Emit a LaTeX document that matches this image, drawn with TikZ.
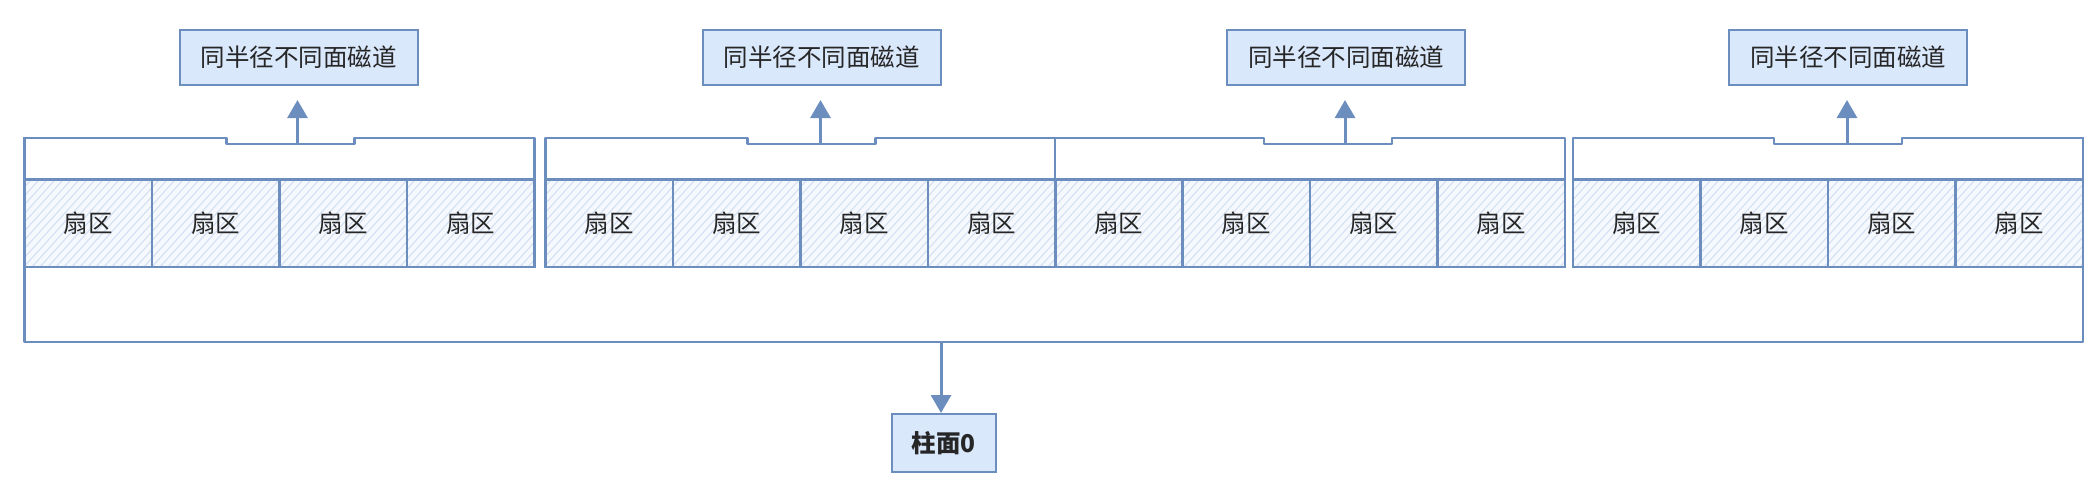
\documentclass[tikz,border=0pt]{standalone}
\usepackage{fontspec}
\setmainfont{Noto Sans CJK SC}
\usetikzlibrary{arrows.meta}
\definecolor{bstroke}{HTML}{6C8EBF}
\definecolor{bfill}{HTML}{DAE8FC}
\definecolor{hatch}{HTML}{D2DFF3}
\definecolor{secbg}{HTML}{F5F8FD}
\tikzset{
  labelbox/.style={draw=bstroke, fill=bfill, line width=2pt, minimum width=238pt, minimum height=55pt, inner sep=0pt, font=\fontsize{24.5}{28}\selectfont, text=black!85},
  sector/.style={draw=bstroke, line width=2.2pt, minimum width=127.5pt, minimum height=87.5pt, inner sep=0pt, font=\fontsize{24.5}{28}\selectfont, text=black!85},
  trackrow/.style={draw=bstroke, fill=white, line width=2.2pt, line join=round},
  conn/.style={draw=bstroke, line width=3pt, -{Triangle[width=20pt,length=18pt]}},
}
\begin{document}
\begin{tikzpicture}[x=1pt,y=-1pt]
\useasboundingbox (0,0) rectangle (2092,493);
% outer cylinder rectangle (top edge hidden behind the track rows)
\node[inner sep=0pt, minimum width=2058.5pt, minimum height=204pt] (outer) at (1053.75,239.6) {};
\draw[bstroke, line width=2.5pt, line join=round] (outer.north west) -- (outer.south west) -- (outer.south east) -- (outer.north east);
% sector hatching
\begin{scope}
  \clip (24.5,179.5) rectangle (534.5,267)
        (545.5,179.5) rectangle (1055,267)
        (1055,179.5) rectangle (1565,267)
        (1573,179.5) rectangle (2083,267);
  \fill[secbg] (0,179.5) rectangle (2092,267);
  \foreach \k in {0,8,...,2200} {
    \draw[hatch, line width=1pt] (\k-100,280) -- (\k,170);
  }
\end{scope}
% groups: index / start / notch offset / arrow offset
\foreach \g/\s/\o/\a in {1/24.5/202/273, 2/545.5/202/275, 3/1055/209/290, 4/1573/201/274} {
  \draw[trackrow] (\s,179.5) -- (\s,137.6) -- (\s+\o,137.6) -- (\s+\o,143.6)
     -- (\s+\o+128,143.6) -- (\s+\o+128,137.6) -- (\s+510,137.6) -- (\s+510,179.5) -- cycle;
  \coordinate (n\g) at (\s+\a,143.6);
  \foreach \i in {0,1,2,3} {
    \node[sector] (s\g\i) at (\s+63.75+127.5*\i,223.25) {扇区};
  }
  \node[labelbox] (t\g) at (\s+\a+1,57.5) {同半径不同面磁道};
  \draw[conn, shorten >=14pt] (n\g) -- (n\g |- t\g.south);
}
% cylinder label
\node[labelbox, minimum width=103.5pt, minimum height=57.5pt, font=\fontsize{24.5}{28}\selectfont\bfseries] (cyl) at (943.75,442.75) {柱面0};
\coordinate (c0) at (941,341.6);
\draw[conn] (c0) -- (c0 |- cyl.north);
\end{tikzpicture}
\end{document}
